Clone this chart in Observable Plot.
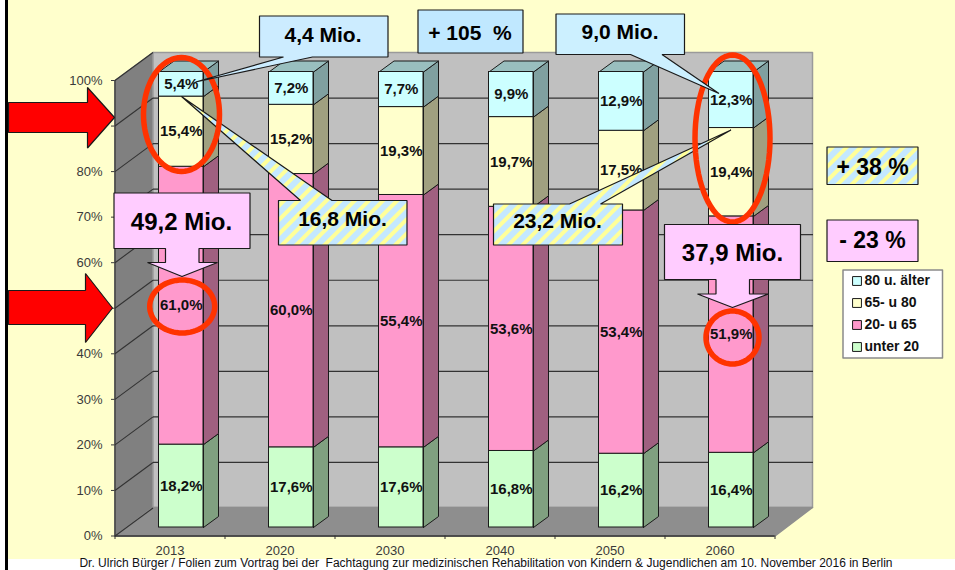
<!DOCTYPE html>
<html>
<head>
<meta charset="utf-8">
<script src="https://cdn.jsdelivr.net/npm/d3@7"></script>
<script src="https://cdn.jsdelivr.net/npm/@observablehq/plot@0.6"></script>
<style>
html,body{margin:0;padding:0;background:#fff;overflow:hidden}
svg{display:block}
</style>
</head>
<body>
<div id="chart"></div>
<script>
const years = ["2013","2020","2030","2040","2050","2060"];
const under20 = [18.2,17.6,17.6,16.8,16.2,16.4];
const age20to65 = [61.0,60.0,55.4,53.6,53.4,51.9];
const age65to80 = [15.4,15.2,19.3,19.7,17.5,19.4];
const over80 = [5.4,7.2,7.7,9.9,12.9,12.3];
const seriesNames = ["unter 20","20- u 65","65- u 80","80 u. älter"];
const seriesValues = [under20,age20to65,age65to80,over80];
const frontColors = ["#CCFFCC","#FF99CC","#FFFFCC","#CCFFFF"];
const sideColors = ["#80A080","#A06080","#A0A080","#80A0A0"];
const topColor = "#99BFBF";
const yTicks = [0,10,20,30,40,50,60,70,80,90,100];

// Page pixels expressed in the chart's own units (category slots, percent)
const X = px => (px - 114.5) / 110;
const Y = py => (535.5 - py) / 4.555;
const P = pts => pts.map(([x,y]) => ({x:X(x), y:Y(y)}));
const poly = (pts, o) => Plot.line(P([...pts, pts[0]]), {x:"x", y:"y", ...o});
const INK = "#1a1a1a";
const FONT = "'Liberation Sans', Arial, sans-serif";

// 3D geometry in chart units
const wallDx = X(152.5), wallDy = 28/4.555;
const barOff = X(158.5), barW = 44.5/110, barDx = 15/110, barDy = 11/4.555, barBase = 8.5/4.555;

const rows = years.flatMap((year,i) => {
  let acc = 0;
  return seriesValues.map((vals,s) => {
    const v = vals[i], y1 = acc + barBase, y2 = acc + v + barBase;
    acc += v;
    return {id:`${i}-${s}`, year, s, v, x1:i+barOff, x2:i+barOff+barW, y1, y2, front:frontColors[s], side:sideColors[s]};
  });
});
const sidePts = rows.flatMap(r => [
  [r.x2,r.y1],[r.x2+barDx,r.y1+barDy],[r.x2+barDx,r.y2+barDy],[r.x2,r.y2],[r.x2,r.y1]
].map(([x,y]) => ({id:r.id,x,y,fill:r.side})));
const topPts = rows.filter(r => r.s===3).flatMap(r => [
  [r.x1,r.y2],[r.x1+barDx,r.y2+barDy],[r.x2+barDx,r.y2+barDy],[r.x2,r.y2],[r.x1,r.y2]
].map(([x,y]) => ({id:r.id,x,y})));

const ellipse = (cx,cy,rx,ry) => Plot.line(
  d3.range(0,73).map(k => ({x:X(cx+rx*Math.cos(k*Math.PI/36)), y:Y(cy+ry*Math.sin(k*Math.PI/36))})),
  {x:"x", y:"y", stroke:"#FF3300", strokeWidth:5.5});
const label = (txt,px,py,size,o={}) => Plot.text([txt],{x:()=>X(px), y:()=>Y(py), text:d=>d, fontSize:size, fontWeight:"bold", fill:"#000", ...o});
const BLUE="#CCECFF", BLUE2="#C0E8FF", PINK="#FFCCFF", STRIPE="url(#stripes)";
const edge = {stroke:INK, strokeWidth:1.2, strokeLinejoin:"miter"};
const boxPts = (x1,y1,x2,y2) => [[x1,y1],[x2,y1],[x2,y2],[x1,y2]];
const arrowRight = (x0,xh,xt,b1,b2,h1,h2,ym) => [[x0,b1],[xh,b1],[xh,h1],[xt,ym],[xh,h2],[xh,b2],[x0,b2]];
// callout box with a wedge leaving one edge
const wedgeBottom = (x1,y1,x2,y2,a,b,tx,ty) => [[x1,y1],[x2,y1],[x2,y2],[b,y2],[tx,ty],[a,y2],[x1,y2]];
const wedgeTop = (x1,y1,x2,y2,a,b,tx,ty) => [[x1,y1],[a,y1],[tx,ty],[b,y1],[x2,y1],[x2,y2],[x1,y2]];
const downArrow = (x1,y1,x2,y2,s1,s2,sy,w1,w2,tx,ty) => [[x1,y1],[x2,y1],[x2,y2],[s2,y2],[s2,sy],[w2,sy],[tx,ty],[w1,sy],[s1,sy],[s1,y2],[x1,y2]];

const plot = Plot.plot({
  width:955, height:570,
  marginLeft:114.5, marginRight:180.5, marginTop:80, marginBottom:34.5,
  x:{type:"linear", domain:[0,6]},
  y:{type:"linear", domain:[0,100]},
  color:{type:"identity"},
  style:{fontFamily:FONT, fontSize:"13px", background:"#fff", overflow:"hidden"},
  marks:[
    // page
    Plot.rect([0],{x1:()=>X(8), x2:()=>X(955), y1:()=>Y(0), y2:()=>Y(559), fill:"#FFFFCC"}),
    Plot.rect([0],{x1:()=>X(5), x2:()=>X(8), y1:()=>Y(0), y2:()=>Y(570), fill:"#000"}),
    // walls and floor
    Plot.line(P([[114.5,80],[152.5,52],[152.5,507],[114.5,535.5],[114.5,80]]),{x:"x",y:"y",fill:"#808080",stroke:"#808080"}),
    Plot.line(P([[152.5,52],[812,52],[812,507],[152.5,507],[152.5,52]]),{x:"x",y:"y",fill:"#C0C0C0",stroke:"#9a9a9a",strokeWidth:1.5}),
    Plot.line(P([[114.5,535.5],[152.5,507],[812,507],[774.5,535.5],[114.5,535.5]]),{x:"x",y:"y",fill:"#8E8E8E",stroke:"#8E8E8E"}),
    // gridlines
    Plot.link(yTicks.slice(1,-1),{x1:wallDx, x2:6+wallDx, y1:d=>d+wallDy, y2:d=>d+wallDy, stroke:"#333", strokeWidth:1.2}),
    Plot.link(yTicks,{x1:0, x2:wallDx, y1:d=>d, y2:d=>d+wallDy, stroke:"#333", strokeWidth:1.1}),
    // axes
    Plot.axisY({ticks:yTicks, tickFormat:d=>d+"%", tickSize:3.5, tickPadding:9, label:null, color:"#3a3a3a", fontSize:13}),
    Plot.ruleX([0],{y1:0,y2:100,stroke:"#333",strokeWidth:1.2}),
    Plot.ruleY([0],{x1:0,x2:6,stroke:"#333",strokeWidth:1.4}),
    Plot.axisX({ticks:d3.range(0,7), tickFormat:()=>"", tickSize:3.5, label:null, color:"#333"}),
    Plot.axisX({ticks:d3.range(0,6).map(i=>i+0.5), tickFormat:d=>years[Math.floor(d)], tickSize:0, tickPadding:9.5, label:null, color:"#3a3a3a", fontSize:13}),
    // bars
    Plot.line(sidePts,{x:"x",y:"y",z:"id",fill:"fill",stroke:INK,strokeWidth:1}),
    Plot.line(topPts,{x:"x",y:"y",z:"id",fill:topColor,stroke:INK,strokeWidth:1}),
    Plot.rect(rows,{x1:"x1",x2:"x2",y1:"y1",y2:"y2",fill:"front",stroke:INK,strokeWidth:1}),
    Plot.text(rows,{x:d=>(d.x1+d.x2)/2, y:d=>(d.y1+d.y2)/2, text:d=>d.v.toFixed(1).replace(".",",")+"%", fontSize:15, fontWeight:"bold", fill:"#111"}),
    // red arrows
    poly(arrowRight(8,87,114,102,132,87,147.5,117),{fill:"#FF0000",...edge}),
    poly(arrowRight(8,85,112,290,324,273,342,307.5),{fill:"#FF0000",...edge}),
    // wedge callouts beneath the rings
    poly(wedgeTop(278,200,406.5,244.5,300,331.5,181,96),{fill:STRIPE,...edge}),
    poly(wedgeTop(493,203.5,622,244.5,569,600,730.5,129.5),{fill:STRIPE,...edge}),
    // rings
    ellipse(181,114,38,57),
    ellipse(732,138,37.5,83.5),
    ellipse(181.7,306,32.5,26.5),
    ellipse(732,337,26.5,26.5),
    // wedge callouts above the rings
    poly(wedgeBottom(259,15.5,387.5,56.5,283,312,195,81.5),{fill:BLUE,...edge}),
    poly(wedgeBottom(555.5,13.5,684,54,630,661.5,718.5,93),{fill:"#CCF0FF",...edge}),
    poly(boxPts(417.5,9.5,522.5,52.5),{fill:BLUE2,...edge}),
    poly(downArrow(113.5,192.5,249.5,248,165,198.5,262,147,217,181.5,276),{fill:PINK,...edge}),
    poly(downArrow(664,224,800,279,715.5,749,293.5,697,768,732,307),{fill:PINK,...edge}),
    poly(boxPts(826.5,146.5,917.5,184),{fill:STRIPE,...edge}),
    poly(boxPts(826.5,219.5,917.5,261),{fill:PINK,...edge}),
    label("4,4 Mio.",322.5,34.5,21),
    label("+ 105\u00a0\u00a0%",469.5,32.5,21),
    label("9,0 Mio.",619.5,32,21),
    label("16,8 Mio.",342,219,21),
    label("23,2 Mio.",557,221,21),
    label("49,2 Mio.",181,221.5,24),
    label("37,9 Mio.",732,253,24),
    label("+ 38 %",872,167,23),
    label("- 23 %",872,240.5,23),
    // legend
    poly(boxPts(842.5,269.5,942,357.5),{fill:"#fff",stroke:"#8a8a8a",strokeWidth:1.5}),
    Plot.dot(d3.range(4),{x:()=>X(856.5), y:s=>Y(346.5-22*s), symbol:"square", r:5, fill:s=>frontColors[s], stroke:INK, strokeWidth:1}),
    Plot.text(d3.range(4),{x:()=>X(864), y:s=>Y(346.5-22*s), text:s=>seriesNames[s], textAnchor:"start", fontSize:14, fontWeight:"bold", fill:"#111"}),
    // footer
    Plot.text(["Dr. Ulrich Bürger / Folien zum Vortrag bei der\u00a0 Fachtagung zur medizinischen Rehabilitation von Kindern & Jugendlichen am 10. November 2016 in Berlin"],
      {x:()=>X(485.5), y:()=>Y(563), text:d=>d, fontSize:12, fill:"#111"}),
  ]
});
const ns = "http://www.w3.org/2000/svg";
const defs = document.createElementNS(ns,"defs");
defs.innerHTML = `<pattern id="stripes" width="10" height="10" patternUnits="userSpaceOnUse" patternTransform="rotate(45)"><rect width="10" height="10" fill="#C4E8FF"/><rect width="4" height="10" fill="#FFFF99"/></pattern>`;
plot.insertBefore(defs, plot.firstChild);
document.getElementById("chart").appendChild(plot);
</script>
</body>
</html>
